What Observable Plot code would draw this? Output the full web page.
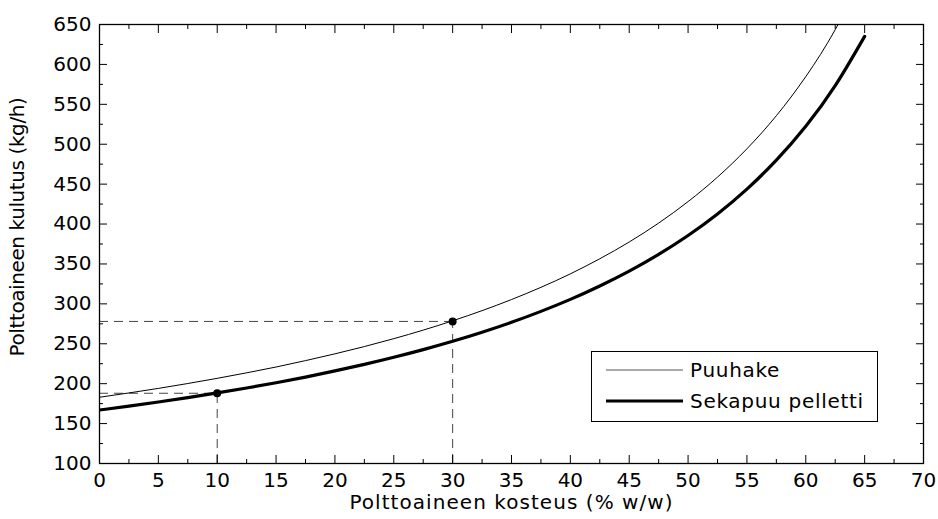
<!DOCTYPE html>
<html><head><meta charset="utf-8">
<script src="https://cdn.jsdelivr.net/npm/d3@7"></script>
<script src="https://cdn.jsdelivr.net/npm/@observablehq/plot@0.6"></script>
<style>
body{margin:0;background:#fff;font-family:"DejaVu Sans",sans-serif}
#wrap{position:relative;width:938px;height:519px}
#legend{position:absolute;left:591px;top:351px;width:287px;height:71px;border:1px solid #000;background:#fff;box-sizing:border-box}
</style></head><body><div id="wrap"></div>
<script>
const moisture = [0,2.5,5,7.5,10,12.5,15,17.5,20,22.5,25,27.5,30,32.5,35,37.5,40,42.5,45,47.5,50,52.5,55,57.5,60,62.5,65];
const puuhake = [183,188.4,194.1,200.2,206.7,213.6,220.9,228.9,237.4,246.5,256.4,267.1,278.8,291.5,305.4,320.7,337.6,356.5,377.5,401.2,428.1,458.8,494.3,535.7,584.7,643.5,715];
const sekapuu = [167,171.9,177.0,182.5,188.4,194.6,201.2,208.3,216.0,224.2,233.1,242.7,253.1,264.5,276.9,290.6,305.6,322.4,341.0,362.0,385.7,412.7,443.8,480.0,522.5,573.4,635.2];
const markerX = [10, 30];
const markerY = [188, 278];
const xTicks = [0,5,10,15,20,25,30,35,40,45,50,55,60,65,70];
const xMinor = [2.5,7.5,12.5,17.5,22.5,27.5,32.5,37.5,42.5,47.5,52.5,57.5,62.5,67.5];
const yTicks = [100,150,200,250,300,350,400,450,500,550,600,650];
const yMinor = [125,175,225,275,325,375,425,475,525,575,625];
const seriesNames = ["Puuhake","Sekapuu pelletti"];
const xTitle = "Polttoaineen kosteus (% w/w)";
const yTitle = "Polttoaineen kulutus (kg/h)";

const FONT = '"DejaVu Sans", sans-serif';
const rowsP = moisture.map((m,i)=>({m, v:puuhake[i]}));
const rowsS = moisture.map((m,i)=>({m, v:sekapuu[i]}));
const markers = markerX.map((x,i)=>({x, y:markerY[i]}));
const blank = () => "";

const chart = Plot.plot({
  width: 938, height: 519,
  marginLeft: 99, marginRight: 15, marginTop: 24, marginBottom: 56,
  style: {fontFamily: FONT, fontSize: "20px", color: "#000", background: "#fff"},
  x: {domain: [0,70], label: null},
  y: {domain: [100,650], label: null},
  marks: [
    Plot.ruleY(markers, {y: "y", x1: 0, x2: "x", stroke: "#444", strokeWidth: 1, strokeDasharray: "9,6"}),
    Plot.ruleX(markers, {x: "x", y1: 100, y2: "y", stroke: "#444", strokeWidth: 1, strokeDasharray: "9,6"}),
    Plot.line(rowsP, {x: "m", y: "v", stroke: "#000", strokeWidth: 1, curve: "natural", clip: true}),
    Plot.line(rowsS, {x: "m", y: "v", stroke: "#000", strokeWidth: 3.2, curve: "natural", clip: true}),
    Plot.dot(markers, {x: "x", y: "y", r: 4, fill: "#000"}),
    Plot.axisX(xTicks, {anchor: "bottom", tickSize: 0, tickPadding: 9, label: xTitle, labelAnchor: "center", labelArrow: "none", labelOffset: 45}),
    Plot.axisY(yTicks, {anchor: "left", tickSize: 0, tickPadding: 8, label: yTitle, labelAnchor: "center", labelArrow: "none", labelOffset: 90}),
    Plot.axisX(xTicks, {anchor: "bottom", tickSize: -8, tickFormat: blank, label: null}),
    Plot.axisX(xMinor, {anchor: "bottom", tickSize: -4, tickFormat: blank, label: null}),
    Plot.axisX(xTicks, {anchor: "top", tickSize: -8, tickFormat: blank, label: null}),
    Plot.axisX(xMinor, {anchor: "top", tickSize: -4, tickFormat: blank, label: null}),
    Plot.axisY(yTicks, {anchor: "left", tickSize: -8, tickFormat: blank, label: null}),
    Plot.axisY(yMinor, {anchor: "left", tickSize: -4, tickFormat: blank, label: null}),
    Plot.axisY(yTicks, {anchor: "right", tickSize: -8, tickFormat: blank, label: null}),
    Plot.axisY(yMinor, {anchor: "right", tickSize: -4, tickFormat: blank, label: null}),
    Plot.frame({stroke: "#000", strokeWidth: 1.3})
  ]
});
chart.querySelectorAll('g[aria-label="x-axis label"] text').forEach(t => t.setAttribute("letter-spacing", "1.05"));
chart.querySelectorAll('g[aria-label="y-axis label"] text').forEach(t => {
  t.setAttribute("letter-spacing", "-0.4");
  t.setAttribute("dx", "17");
});
const wrap = document.getElementById("wrap");
wrap.appendChild(chart);

const legend = document.createElement("div");
legend.id = "legend";
const ns = "http://www.w3.org/2000/svg";
const svg = document.createElementNS(ns, "svg");
svg.setAttribute("width", 285); svg.setAttribute("height", 69);
seriesNames.forEach((name, i) => {
  const yy = 18 + i * 31;
  const ln = document.createElementNS(ns, "line");
  ln.setAttribute("x1", 14); ln.setAttribute("x2", 91);
  ln.setAttribute("y1", yy); ln.setAttribute("y2", yy);
  ln.setAttribute("stroke", i === 0 ? "#555" : "#000");
  ln.setAttribute("stroke-width", i === 0 ? 1 : 3.2);
  svg.appendChild(ln);
  const t = document.createElementNS(ns, "text");
  t.setAttribute("x", 98); t.setAttribute("y", yy);
  t.setAttribute("dy", "0.35em");
  t.setAttribute("font-size", "20px");
  t.setAttribute("letter-spacing", "0.7");
  t.setAttribute("font-family", FONT);
  t.textContent = name;
  svg.appendChild(t);
});
legend.appendChild(svg);
wrap.appendChild(legend);
</script>
</body></html>
